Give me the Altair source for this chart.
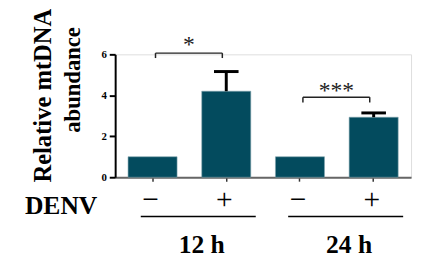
import altair as alt
import pandas as pd

categories = ["12h_neg", "12h_pos", "24h_neg", "24h_pos"]
signs = ["\u2212", "+", "\u2212", "+"]
means = [1.0, 4.2, 1.0, 2.93]
upper = [1.0, 5.16, 1.0, 3.14]
groups = ["12 h", "24 h"]
group_first = ["12h_neg", "24h_neg"]
group_second = ["12h_pos", "24h_pos"]
bracket_top = [6.06, 3.91]
bracket_leg = [5.82, 3.65]
star_text = ["*", "***"]
star_y = [6.1, 3.87]

SERIF = "Liberation Serif"
BAR = "#034b5e"

bars_df = pd.DataFrame({"cat": categories, "sign": signs, "mean": means, "upper": upper})
err_df = bars_df[bars_df["upper"] > bars_df["mean"]]
grp_df = pd.DataFrame({"group": groups, "a": group_first, "b": group_second,
                       "top": bracket_top, "leg": bracket_leg,
                       "stars": star_text, "sy": star_y})

xscale = alt.Scale(domain=categories, paddingInner=0.335, paddingOuter=0.175)
yscale = alt.Scale(domain=[0, 6], nice=False)

x_enc = alt.X("cat:N", scale=xscale, sort=categories,
              axis=alt.Axis(title=None, labels=False, tickSize=4, tickWidth=1.5,
                            tickColor="#333", domainColor="#666", domainWidth=2))
y_enc = alt.Y("mean:Q", scale=yscale,
              axis=alt.Axis(title=None, values=[0, 2, 4, 6], grid=False,
                            labelFont=SERIF, labelFontWeight="bold", labelFontSize=11,
                            labelColor="black", labelPadding=3, tickSize=6, tickWidth=2,
                            tickColor="black", domainColor="black", domainWidth=2))

bars = alt.Chart(bars_df).mark_bar(color=BAR, stroke="#7fa3ad", strokeWidth=0.6).encode(
    x=x_enc, y=y_enc)

err_stem = alt.Chart(err_df).mark_rule(color="black", strokeWidth=3).encode(
    x=alt.X("cat:N", scale=xscale, sort=categories),
    y=alt.Y("mean:Q", scale=yscale), y2="upper:Q")
err_cap = alt.Chart(err_df).mark_rule(color="black", strokeWidth=3, xOffset=-12.5, x2Offset=12.5).encode(
    x=alt.X("cat:N", scale=xscale, sort=categories), x2="cat:N",
    y=alt.Y("upper:Q", scale=yscale))

br_h = alt.Chart(grp_df).mark_rule(color="#222", strokeWidth=1.5, xOffset=3, x2Offset=-4).encode(
    x=alt.X("a:N", scale=xscale, sort=categories), x2="b:N",
    y=alt.Y("top:Q", scale=yscale))
br_l = alt.Chart(grp_df).mark_rule(color="#222", strokeWidth=1.5, xOffset=3).encode(
    x=alt.X("a:N", scale=xscale, sort=categories),
    y=alt.Y("top:Q", scale=yscale), y2="leg:Q")
br_r = alt.Chart(grp_df).mark_rule(color="#222", strokeWidth=1.5, xOffset=-4).encode(
    x=alt.X("b:N", scale=xscale, sort=categories),
    y=alt.Y("top:Q", scale=yscale), y2="leg:Q")
stars = alt.Chart(grp_df).mark_text(font=SERIF, fontSize=24, dx=37, baseline="alphabetic",
                                    color="#222").encode(
    x=alt.X("a:N", scale=xscale, sort=categories),
    y=alt.Y("sy:Q", scale=yscale), text="stars:N")

sign_txt = alt.Chart(bars_df).mark_text(font=SERIF, fontSize=30, baseline="alphabetic",
                                        dx=-2, color="black").encode(
    x=alt.X("cat:N", scale=xscale, sort=categories),
    y=alt.value(157), text="sign:N")

underline = alt.Chart(grp_df).mark_rule(color="black", strokeWidth=1.5, xOffset=-12, x2Offset=30).encode(
    x=alt.X("a:N", scale=xscale, sort=categories), x2="b:N",
    y=alt.value(165))

grp_txt = alt.Chart(grp_df).mark_text(font=SERIF, fontSize=26, fontWeight="bold",
                                      baseline="alphabetic", dx=50, color="black").encode(
    x=alt.X("a:N", scale=xscale, sort=categories),
    y=alt.value(202), text="group:N")

denv = alt.Chart(pd.DataFrame({"t": ["DENV"]})).mark_text(
    font=SERIF, fontSize=26, fontWeight="bold", baseline="alphabetic", color="black").encode(
    x=alt.value(-55), y=alt.value(162), text="t:N")

ytitle1 = alt.Chart(pd.DataFrame({"t": ["Relative mtDNA"]})).mark_text(
    font=SERIF, fontSize=25, fontWeight="bold", baseline="alphabetic", angle=270,
    color="black").encode(x=alt.value(-65), y=alt.value(42), text="t:N")
ytitle2 = alt.Chart(pd.DataFrame({"t": ["abundance"]})).mark_text(
    font=SERIF, fontSize=23, fontWeight="bold", baseline="alphabetic", angle=270,
    color="black").encode(x=alt.value(-36), y=alt.value(26), text="t:N")

chart = alt.layer(bars, err_stem, err_cap, br_h, br_l, br_r, stars, sign_txt,
                  underline, grp_txt, denv, ytitle1, ytitle2).properties(
    width=301, height=125,
    autosize=alt.AutoSizeParams(type="none"),
    padding={"left": 109, "top": 45, "right": 4, "bottom": 80},
).configure_view(stroke=None).configure(background="white")

chart.save("out.html", embed_options={"renderer": "svg", "actions": False})
